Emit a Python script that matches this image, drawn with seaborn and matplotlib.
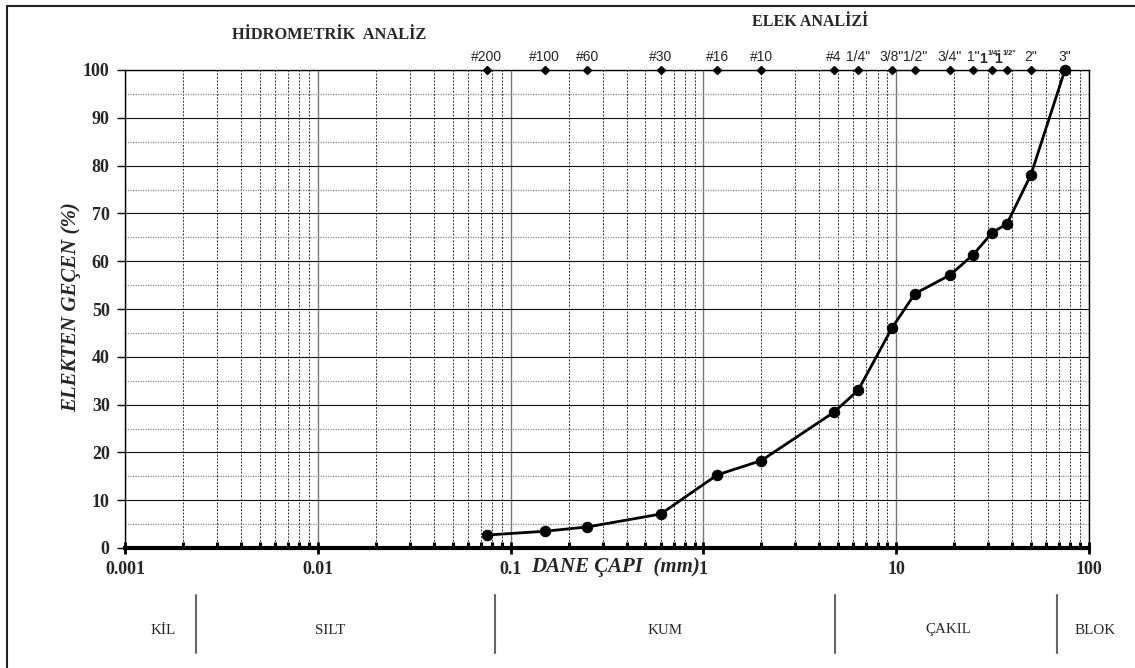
import matplotlib
matplotlib.use("Agg")
import matplotlib.pyplot as plt
import matplotlib.ticker as mticker
from matplotlib.lines import Line2D
import numpy as np
import pandas as pd
import seaborn as sns

# ---------------- data ----------------
sieve_labels = ['#200', '#100', '#60', '#30', '#16', '#10', '#4', '1/4"', '3/8"', '1/2"',
                '3/4"', '1"', '1 1/4"', '1 1/2"', '2"', '3"']
sieve_sizes_mm = [0.075, 0.15, 0.25, 0.6, 1.18, 2.0, 4.75, 6.35, 9.5, 12.5,
                  19.0, 25.0, 31.5, 37.5, 50.0, 75.0]
percent_passing = [2.7, 3.5, 4.4, 7.1, 15.3, 18.3, 28.4, 33.0, 46.0, 53.2,
                   57.1, 61.3, 66.0, 67.8, 78.1, 100.0]

x_tick_values = [0.001, 0.01, 0.1, 1, 10, 100]
x_tick_labels = ['0.001', '0.01', '0.1', '1', '10', '100']
y_tick_values = [0, 10, 20, 30, 40, 50, 60, 70, 80, 90, 100]

soil_classes = ['KİL', 'SILT', 'KUM', 'ÇAKIL', 'BLOK']
soil_class_x_px = [163, 330, 665, 948, 1095]
soil_sep_x_px = [196, 495, 835, 1057]

df = pd.DataFrame({'size': sieve_sizes_mm, 'passing': percent_passing})

# ---------------- style ----------------
sns.set_style('white')
plt.rcParams['font.family'] = ['Liberation Serif', 'DejaVu Serif']

W, H = 1135, 668
fig = plt.figure(figsize=(W / 100, H / 100), dpi=100)
ax = fig.add_axes([125 / W, 1 - 548 / H, (1089 - 125) / W, (548 - 70) / H])


def fpx(x, y):
    return (x / W, 1 - y / H)


ax.set_xscale('log')
ax.set_xlim(0.001, 100)
ax.set_ylim(0, 100)

# grid
ax.xaxis.set_minor_locator(mticker.LogLocator(base=10, subs=np.arange(2, 10)))
ax.xaxis.set_minor_formatter(mticker.NullFormatter())
ax.yaxis.set_minor_locator(mticker.MultipleLocator(5))
ax.set_axisbelow(True)
ax.grid(axis='x', which='major', color='#777777', lw=1.0, ls='-')
ax.grid(axis='x', which='minor', color='#333333', lw=0.7, ls=(0, (2, 1.5)))
ax.grid(axis='y', which='major', color='#111111', lw=0.8, ls='-')
ax.grid(axis='y', which='minor', color='#888888', lw=0.9, ls=(0, (1, 1)))

# data
sns.lineplot(data=df, x='size', y='passing', ax=ax, color='black', lw=2.0,
             marker='o', markersize=7.5, markeredgecolor='black', zorder=5, clip_on=False)
for ln in ax.lines:
    ln.set_clip_on(False)

ax.plot(sieve_sizes_mm, [100] * len(sieve_sizes_mm), ls='none', marker='D', ms=4,
        color='black', clip_on=False, zorder=6)
for s, lab in zip(sieve_sizes_mm, sieve_labels):
    if ' ' in lab:
        whole, frac = lab.split(' ')
        ax.annotate(whole, xy=(s, 100), xytext=(-3.6, 3), textcoords='offset points',
                    ha='right', va='bottom', fontsize=10, fontweight='bold',
                    family='Liberation Sans', annotation_clip=False)
        ax.annotate(frac, xy=(s, 100), xytext=(-3.2, 9.5), textcoords='offset points',
                    ha='left', va='bottom', fontsize=5.3, fontweight='bold',
                    family='Liberation Sans', annotation_clip=False)
    else:
        ax.annotate(lab, xy=(s, 100), xytext=(0, 4), textcoords='offset points',
                    ha='center', va='bottom', fontsize=10, family='Liberation Sans',
                    annotation_clip=False)

# spines
for side in ['top', 'right', 'left']:
    ax.spines[side].set_color('black')
    ax.spines[side].set_linewidth(1.0)
ax.spines['bottom'].set_color('black')
ax.spines['bottom'].set_linewidth(3.0)

# ticks
ax.set_xticks(x_tick_values)
ax.set_xticklabels(x_tick_labels)
ax.set_yticks(y_tick_values)
ax.tick_params(axis='x', which='major', direction='inout', length=8, width=2,
               color='black', pad=5, labelsize=13, bottom=True, top=False)
ax.tick_params(axis='x', which='minor', direction='in', length=4, width=2.2,
               color='black', bottom=True, top=False)
ax.tick_params(axis='y', which='major', direction='out', length=6, width=1,
               color='black', pad=5, labelsize=13, left=True)
ax.tick_params(axis='y', which='minor', length=0)
for lbl in ax.get_xticklabels() + ax.get_yticklabels():
    lbl.set_fontweight('bold')

ax.set_xlabel('')
ax.set_ylabel('')

# axis titles
fig.text(*fpx(71, 307), 'ELEKTEN GEÇEN (%)', rotation=90, ha='center', va='center',
         fontsize=15, fontweight='bold', fontstyle='italic')
fig.text(*fpx(616, 567), 'DANE ÇAPI  (mm)', ha='center', va='center',
         fontsize=15, fontweight='bold', fontstyle='italic')

# section titles
fig.text(*fpx(329, 35), 'HİDROMETRİK  ANALİZ', ha='center', va='center',
         fontsize=11.8, fontweight='bold')
fig.text(*fpx(810, 22), 'ELEK ANALİZİ', ha='center', va='center',
         fontsize=11.5, fontweight='bold')

# soil classification band
for name, xp in zip(soil_classes, soil_class_x_px):
    fig.text(*fpx(xp, 630), name, ha='center', va='center', fontsize=10.8)
for xp in soil_sep_x_px:
    x0, y0 = fpx(xp, 595)
    x1, y1 = fpx(xp, 653)
    fig.add_artist(Line2D([x0, x1], [y0, y1], color='#666666', lw=1.5))

# outer frame (top and left)
fig.add_artist(Line2D([7 / W, 1.0], [1 - 6 / H, 1 - 6 / H], color='#222222', lw=1.5))
fig.add_artist(Line2D([7 / W, 7 / W], [1 - 6 / H, 0.0], color='#222222', lw=1.5))

fig.savefig('out.png', dpi=100)
